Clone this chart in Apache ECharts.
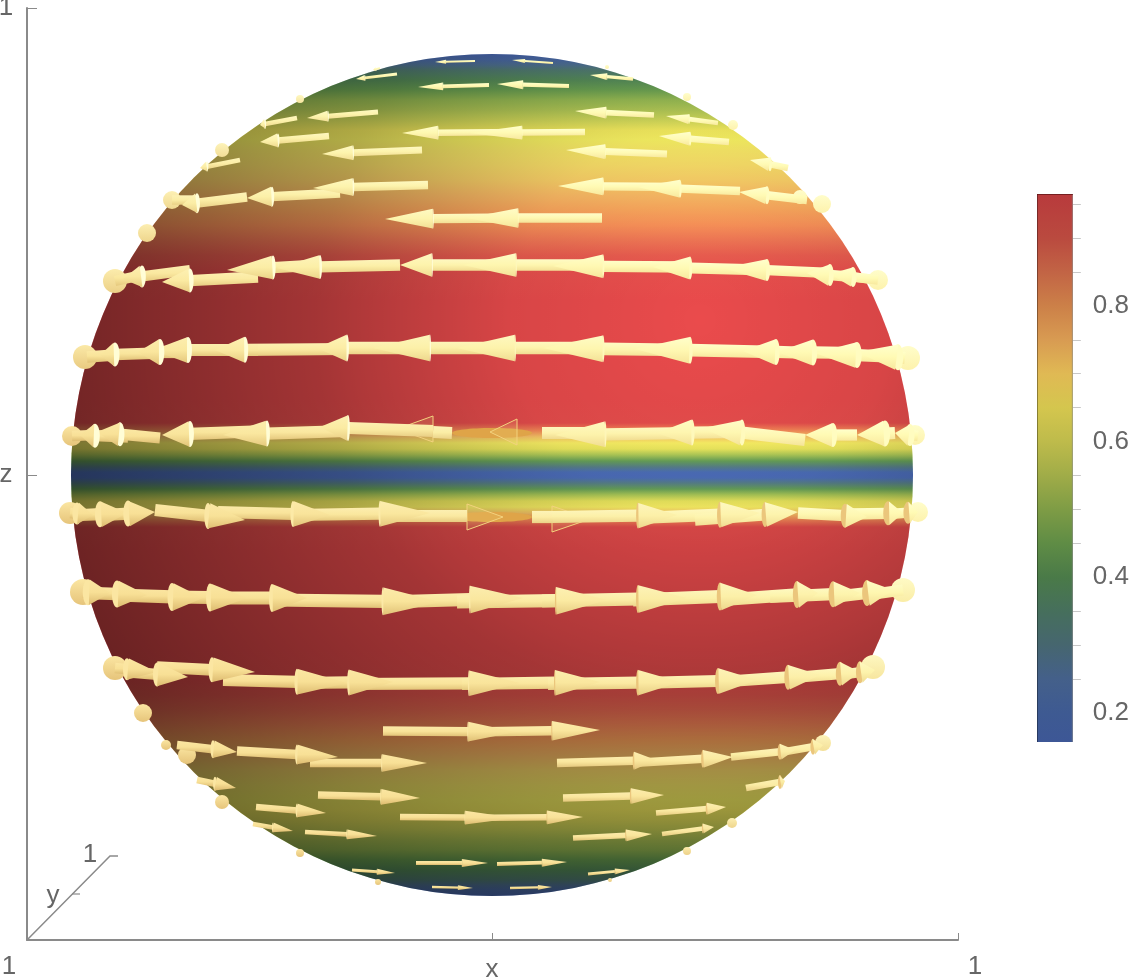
<!DOCTYPE html>
<html><head><meta charset="utf-8">
<style>html,body{margin:0;padding:0;background:#fff}#c{width:1132px;height:980px}</style>
<script src="https://cdn.jsdelivr.net/npm/echarts@6/dist/echarts.min.js"></script>
</head><body><div id="c"></div>
<script>
// colour function: legend value -> colour
const rampValues=[0.157,0.2,0.25,0.3,0.35,0.4,0.45,0.5,0.55,0.6,0.65,0.7,0.75,0.8,0.85,0.9,0.965];
const rampColors=['#3D5796','#3E5A92','#44608A','#46666F','#466F5C','#4A7A48','#5F8C45','#7E9C45','#A0AC48','#BEBB4B','#D4C64E','#E0B954','#D89B52','#CC8048','#C26445','#BA4A3F','#B83A3C'];
const legendMajor=[0.2,0.4,0.6,0.8];
const legendMinor=[0.25,0.3,0.35,0.45,0.5,0.55,0.65,0.7,0.75,0.85,0.9,0.95];
// sphere: radius and value by height z (axis units, sphere centred on 0)
const sphereRadius=[421];
const sphereZ=[421,415,410,405,395,385,375,365,355,345,335,325,310,295,280,265,250,235,220,205,175,75,52,45,38,32,26,20,14,8,3,0,-3,-8,-14,-20,-26,-32,-38,-45,-52,-75,-175,-205,-220,-235,-250,-265,-280,-295,-310,-325,-335,-345,-355,-365,-375,-385,-395,-405,-410,-415,-421];
const sphereValue=[.16,.22,.27,.33,.39,.44,.5,.53,.57,.62,.66,.69,.71,.73,.76,.79,.82,.86,.9,.94,.96,.96,.95,.84,.74,.67,.6,.52,.42,.3,.19,.16,.19,.3,.42,.52,.6,.67,.74,.84,.95,.96,.96,.95,.92,.88,.84,.8,.76,.72,.69,.66,.63,.6,.57,.53,.5,.44,.39,.33,.27,.22,.16];
// arrows: tailX, tailZ, headBaseX, tipX, tipZ, headHalfWidth
const arrowsUpper=[
[-17,414,-46,-57,413,2],[61,412,33,20,415,2],[-95,401,-127,-136,396,3],[-112,407,-116,-119,405,2],[141,396,115,98,400,3.5],
[-3,390,-49,-74,388,4],[77,389,31,5,391,4.5],[-114,363,-164,-185,357,5.5],[-195,357,-227,-232,350,5],[162,360,114,83,364,6],[226,352,197,174,359,5],
[93,343,30,-22,342,7],[30,343,-54,-90,342,7],[-163,339,-214,-232,333,7],[237,333,198,167,339,7],[-70,325,-139,-170,321,7.5],[175,321,113,74,325,7.5],
[-252,315,-285,-292,307,5],[296,307,278,258,315,7],[-64,290,-139,-179,287,9],[-152,282,-220,-245,277,10],[-245,278,-295,-310,270,10],[-295,275,-320,-320,275,10],
[188,288,111,66,289,9],[248,284,188,146,288,9],[315,275,275,247,283,9],[110,257,26,-25,257,10],[26,257,-59,-107,256,10]];
const arrowsRow265=[
[378,196,361,338,201,10],[361,198,338,315,202,11],[338,202,275,231,207,11],[275,205,198,161,208,11.5],[198,208,111,61,209,12],[111,210,24,-29,210,12],
[24,210,-60,-92,210,12],[-92,210,-172,-215,207,12],[-172,210,-219,-265,205,12],[-302,205,-350,-369,196,11],[-234,198,-302,-330,193,12],[-350,200,-377,-377,194,11],[361,198,386,386,195,10]];
const arrowsRow350=[
[413,117,406,365,123,13],[406,118,365,323,122,13],[365,122,321,285,123,13],[321,122,284,251,124,13],[284,123,198,143,126,13.5],[198,125,111,51,127,13.5],[111,127,23,-35,127,13.5],
[23,127,-62,-119,127,13.5],[-62,127,-145,-175,127,13.5],[-145,126,-247,-277,125,13],[-234,125,-304,-339,125,13],[-304,123,-332,-354,123,13],[-332,122,-377,-392,120,12],[-377,120,-405,-405,118,12]];
const arrowsRow432=[
[426,39,418,403,42,11],[403,42,393,365,40,13],[365,40,341,313,40,12],[313,35,250,211,47,13],[250,43,200,165,42,13],[200,42,113,63,40,13],[113,42,50,50,42,13],
[-40,42,-59,-59,43,13],[-59,44,-144,-172,48,13],[-144,44,-225,-269,40,13],[-225,44,-302,-330,40,13],[-332,37,-372,-395,43,12],[-364,38,-397,-412,40,12],[-397,40,-420,-420,39,11]];
const arrowsRow515=[
[-422,-38,-415,-399,-40,11],[-410,-40,-392,-365,-38,13],[-387,-40,-364,-337,-37,13],[-337,-35,-284,-247,-45,13],[-274,-37,-199,-162,-40,13],[-199,-40,-112,-62,-38,13],[-112,-41,-25,-25,-41,13],
[40,-42,60,60,-42,13],[60,-42,146,185,-40,13],[146,-43,228,268,-38,13],[203,-45,273,306,-37,12.5],[306,-38,353,375,-42,12],[358,-39,396,411,-38,12],[398,-39,416,426,-37,11]];
const arrowsRow600=[
[-409,-117,-404,-382,-118,13],[-404,-118,-375,-345,-120,13.5],[-375,-120,-320,-289,-123,14],[-320,-122,-282,-245,-123,14],[-282,-123,-220,-185,-123,14],[-220,-125,-109,-52,-127,14],[-109,-127,-22,31,-123,14],
[-35,-127,64,115,-125,14],[50,-126,146,195,-123,14],[141,-125,228,265,-120,14],[228,-125,305,326,-118,13.5],[278,-122,341,368,-118,13],[341,-122,375,401,-115,13],[375,-120,411,411,-115,12]];
const arrowsRow680=[
[-377,-193,-365,-335,-197,11],[-365,-197,-335,-304,-202,12],[-335,-192,-280,-237,-197,12.5],[-269,-205,-195,-145,-208,13],[-195,-208,-143,-99,-207,13],[-143,-209,-23,28,-208,13],
[-30,-209,63,108,-207,13],[56,-209,146,188,-207,13],[146,-208,226,265,-205,13],[226,-207,296,328,-200,12.5],[296,-203,348,368,-197,12],[348,-200,368,383,-195,11]];
const arrowsLower=[
[-109,-256,-24,23,-257,10],[-24,-257,60,108,-255,10],[-315,-270,-279,-255,-277,9],[-255,-276,-195,-154,-282,10],[-182,-288,-110,-65,-288,9],[-295,-305,-277,-256,-313,7],
[-174,-320,-111,-72,-323,8],[-236,-332,-195,-166,-338,7],[-239,-349,-219,-199,-356,5],[-187,-357,-145,-115,-361,5],[-92,-342,-27,23,-343,7],[-27,-343,55,91,-342,7],
[-76,-388,-30,-4,-388,4],[-140,-395,-115,-97,-398,3],[-60,-412,-34,-19,-413,2.5],[5,-389,50,75,-387,4],[18,-413,46,60,-412,2.5],[96,-399,123,138,-395,3],
[81,-363,134,160,-359,6],[170,-359,211,222,-352,5],[71,-323,139,172,-320,8],[164,-338,215,234,-332,6],[65,-288,142,164,-285,9],[141,-288,211,241,-282,9],
[239,-282,288,303,-275,8],[291,-277,321,331,-270,8],[254,-313,288,293,-306,7]];
// arrow bases seen at the sphere's edge: x, z, radius
const limbCaps=[[-192,376,4],[-270,325,7],[-320,275,9],[-345,242,9],[195,378,4],[241,350,5],[115,408,2],[330,271,9],[308,278,7],[386,195,10],[-377,194,12],[416,117,12],[-407,118,12],[423,40,10],[-420,39,10],[-422,-38,11],[426,-37,10],[-409,-117,13],[411,-115,12],[-377,-193,12],[381,-192,12],[-349,-238,9],[-270,-327,7],[-192,-378,4],[-114,-407,3],[118,-405,2],[195,-376,4],[240,-348,5],[331,-268,8],[-305,-280,9],[-326,-270,5]];
// arrows sunk into the surface at the front of the sphere
const sunkHeads=[[-59,46,-95,13],[25,43,-2,13],[-25,-42,11,13],[60,-44,98,13]];
const sunkShafts=[[0,42,40,5],[0,-42,40,5]];
// axis furniture
const depthAxis=[[-465,-465],[-382,-381],[-374,-381]];
const depthTick=[[-420,-419],[-412,-419]];
const textLabels=['1','z','1','x','1','1','y'];
const textX=[-486,-486,-483,0,483,-402,-439];
const textZ=[467,0,-492,-495,-492,-380,-421];

const TEXT='#666666', FONT='26px "Liberation Sans", Arial, sans-serif', AXIS='#8a8a8a';
const hex=c=>[1,3,5].map(i=>parseInt(c.substr(i,2),16));
const mix=(a,b,t)=>{const A=hex(a),B=hex(b);return 'rgb('+A.map((v,i)=>Math.round(v+(B[i]-v)*t)).join(',')+')';};
const clamp=v=>Math.max(0,Math.min(1,v));
function rampColor(v,gain){
  let i=0; while(i<rampValues.length-2&&v>rampValues[i+1])i++;
  const t=clamp((v-rampValues[i])/(rampValues[i+1]-rampValues[i]));
  const A=hex(rampColors[i]),B=hex(rampColors[i+1]);
  return 'rgb('+A.map((c,k)=>Math.min(255,Math.round((c+(B[k]-c)*t)*gain))).join(',')+')';
}
const grad=(stops)=>new echarts.graphic.LinearGradient(0,0,0,1,stops);

function renderSphere(params,api){
  const c=api.coord([0,0]), R=api.size([sphereRadius[0],0])[0];
  const stops=sphereZ.map((z,i)=>({offset:(sphereRadius[0]-z)/(2*sphereRadius[0]),color:rampColor(sphereValue[i],1.27)}));
  return {type:'group',children:[
    {type:'circle',shape:{cx:c[0],cy:c[1],r:R},style:{fill:grad(stops)}},
    {type:'circle',shape:{cx:c[0],cy:c[1],r:R},style:{fill:new echarts.graphic.RadialGradient(0.747,0.316,0.8,[
      {offset:0,color:'rgba(0,0,0,0)'},{offset:.28,color:'rgba(0,0,0,0.08)'},{offset:.51,color:'rgba(0,0,0,0.25)'},{offset:.57,color:'rgba(0,0,0,0.3)'},{offset:.74,color:'rgba(0,0,0,0.4)'},{offset:1,color:'rgba(0,0,0,0.54)'}])}}
  ]};
}
function arrowGeom(api){
  const tx=api.value(0),tz=api.value(1),bx=api.value(2),px=api.value(3),pz=api.value(4),w=api.value(5)*api.size([1,0])[0];
  const t=api.coord([tx,tz]),p=api.coord([px,pz]);
  const f=(px===tx)?0:(bx-tx)/(px-tx);
  const b=[t[0]+(p[0]-t[0])*f,t[1]+(p[1]-t[1])*f];
  const L=Math.hypot(p[0]-t[0],p[1]-t[1])||1, ux=(p[0]-t[0])/L, uy=(p[1]-t[1])/L;
  const R=sphereRadius[0], midX=(tx+px)/2, midZ=(tz+pz)/2;
  const lit=clamp(0.5+(midX+midZ)/(2*R)*1.1);
  const fill=grad([{offset:0,color:mix('#FBE6A2','#FFFFCC',lit)},{offset:.5,color:mix('#F8E096','#FFFAB4',lit)},{offset:1,color:mix('#DDBB70','#F8E89E',lit)}]);
  return {t,p,b,ux,uy,nx:-uy,ny:ux,w,bx,px,midZ,lit,fill,R};
}
function renderShaft(params,api){
  const g=arrowGeom(api), s=g.w*0.47, {t,b,nx,ny}=g;
  return {type:'polygon',shape:{points:[[t[0]+nx*s,t[1]+ny*s],[b[0]+nx*s,b[1]+ny*s],[b[0]-nx*s,b[1]-ny*s],[t[0]-nx*s,t[1]-ny*s]]},style:{fill:g.fill}};
}
function renderHead(params,api){
  const g=arrowGeom(api), {p,b,ux,nx,ny,w,bx,midZ,lit,fill,R}=g;
  if(Math.abs(g.px-bx)<=1) return {type:'group',children:[]};
  const rx=Math.max(0.18,Math.abs(bx)/R)*w*0.42;
  const upperLeft=bx<0&&midZ>0, lowerRight=bx>0&&midZ<0;
  const eFill=upperLeft?'#FFFDD6':(lowerRight?'#EBC67C':mix('#FBE6A2','#FFFCC0',lit));
  return {type:'group',children:[
    {type:'ellipse',shape:{cx:b[0],cy:b[1],rx:rx,ry:w},style:{fill:eFill}},
    {type:'polygon',shape:{points:[[b[0]+nx*w*.98+ux*rx*.25,b[1]+ny*w*.98],[b[0]-nx*w*.98+ux*rx*.25,b[1]-ny*w*.98],p]},style:{fill:fill}}
  ]};
}
function renderCap(params,api){
  const c=api.coord([api.value(0),api.value(1)]),r=api.value(2)*api.size([1,0])[0];
  const lit=clamp(0.5+(api.value(0)+api.value(1))/(2*sphereRadius[0])*1.1);
  return {type:'circle',shape:{cx:c[0],cy:c[1],r:r},style:{fill:grad([{offset:0,color:mix('#FBE6A2','#FFFDCA',lit)},{offset:1,color:mix('#E6C47A','#FDF2AC',lit)}])}};
}
function renderSunkHead(params,api){
  const z=api.value(1),w=api.value(3)*api.size([1,0])[0];
  const b=api.coord([api.value(0),z]),p=api.coord([api.value(2),z]);
  return {type:'polygon',shape:{points:[[b[0],b[1]-w],[b[0],b[1]+w],p]},style:{fill:'rgba(255,235,150,0.12)',stroke:'#F3D27E',lineWidth:1}};
}
function renderSunkShaft(params,api){
  const c=api.coord([api.value(0),api.value(1)]),u=api.size([1,0])[0];
  return {type:'ellipse',shape:{cx:c[0],cy:c[1],rx:api.value(2)*u,ry:api.value(3)*u},style:{fill:'#DFA448'}};
}
function renderBar(params,api){
  const a=api.coord([0,api.value(1)]),b=api.coord([1,api.value(0)]);
  const top=rampValues[rampValues.length-1], span=top-rampValues[0];
  const stops=rampValues.map((v,i)=>({offset:(top-v)/span,color:rampColors[i]})).reverse();
  return {type:'group',children:[
    {type:'rect',shape:{x:a[0],y:a[1],width:b[0]-a[0],height:b[1]-a[1]},style:{fill:grad(stops)}},
    {type:'line',shape:{x1:a[0]+.5,y1:a[1],x2:a[0]+.5,y2:b[1]},style:{stroke:'rgba(0,0,0,0.35)',lineWidth:1}},
    {type:'line',shape:{x1:b[0]-.5,y1:a[1],x2:b[0]-.5,y2:b[1]},style:{stroke:'rgba(128,128,128,0.6)',lineWidth:1}},
    {type:'line',shape:{x1:a[0],y1:a[1]+.5,x2:b[0],y2:a[1]+.5},style:{stroke:'rgba(90,20,20,0.7)',lineWidth:1}}
  ]};
}
function renderPoly(params,api){
  const pts=params.seriesName==='depthAxis'?depthAxis:depthTick;
  return {type:'polyline',shape:{points:pts.map(p=>api.coord(p))},style:{fill:null,stroke:AXIS,lineWidth:params.seriesName==='depthAxis'?1.5:1.2}};
}
function renderText(params,api){
  const c=api.coord([api.value(0),api.value(1)]);
  return {type:'text',x:c[0],y:c[1],style:{text:textLabels[params.dataIndex],font:FONT,fill:TEXT,align:'center',verticalAlign:'middle'}};
}
const arrowSeries=[arrowsUpper,arrowsRow265,arrowsRow350,arrowsRow432,arrowsRow515,arrowsRow600,arrowsRow680,arrowsLower];
const chart=echarts.init(document.getElementById('c'),null,{renderer:'canvas'});
const custom=(name,data,fn,z,enc)=>({type:'custom',name:name,data:data,renderItem:fn,z:z,silent:true,clip:false,encode:enc||{x:0,y:1},animation:false,xAxisIndex:0,yAxisIndex:0});
const arrowEnc={x:[0,2,3],y:[1,4]};
chart.setOption({
  animation:false,tooltip:{show:false},legend:{show:false},
  grid:[{left:27,top:8,width:931,height:932,containLabel:false},{left:1037,top:194,width:37,height:548,containLabel:false}],
  xAxis:[
    {gridIndex:0,type:'value',min:-465,max:466,splitLine:{show:false},axisLabel:{show:false},axisLine:{onZero:false,lineStyle:{color:AXIS,width:2}},axisTick:{inside:true,length:7,customValues:[0,466],lineStyle:{color:AXIS,width:1}}},
    {gridIndex:1,type:'value',min:0,max:1,show:false}
  ],
  yAxis:[
    {gridIndex:0,type:'value',min:-465,max:467,splitLine:{show:false},axisLabel:{show:false},axisLine:{onZero:false,lineStyle:{color:AXIS,width:2}},axisTick:{inside:true,length:10,customValues:[0,467],lineStyle:{color:AXIS,width:1}}},
    {gridIndex:1,type:'value',position:'right',min:rampValues[0],max:rampValues[rampValues.length-1],splitLine:{show:false},axisLine:{show:false},
      axisTick:{show:true,length:13,customValues:legendMajor,lineStyle:{color:'#bdbdbd',width:1}},
      axisLabel:{show:true,customValues:legendMajor,margin:20,formatter:v=>v.toFixed(1),color:TEXT,fontSize:26,fontFamily:'"Liberation Sans", Arial, sans-serif'}},
    {gridIndex:1,type:'value',position:'right',min:rampValues[0],max:rampValues[rampValues.length-1],splitLine:{show:false},axisLine:{show:false},axisLabel:{show:false},
      axisTick:{show:true,length:8,customValues:legendMinor,lineStyle:{color:'#c8c8c8',width:1}}}
  ],
  series:[
    custom('sphere',[[0,0]],renderSphere,2),
    custom('sunkShaft',sunkShafts,renderSunkShaft,3),
    custom('sunkHead',sunkHeads,renderSunkHead,4),
    custom('caps',limbCaps,renderCap,5),
    ...arrowSeries.map((d,i)=>custom('shafts'+i,d,renderShaft,6,arrowEnc)),
    ...arrowSeries.map((d,i)=>custom('heads'+i,d,renderHead,7,arrowEnc)),
    custom('depthAxis',[[0,0]],renderPoly,1),
    custom('depthTick',[[0,0]],renderPoly,1),
    custom('axisText',textLabels.map((t,i)=>[textX[i],textZ[i]]),renderText,8),
    {type:'custom',name:'colorbar',data:[[rampValues[0],rampValues[rampValues.length-1]]],renderItem:renderBar,xAxisIndex:1,yAxisIndex:1,z:2,silent:true,encode:{y:[0,1]},animation:false}
  ]
});
</script></body></html>
